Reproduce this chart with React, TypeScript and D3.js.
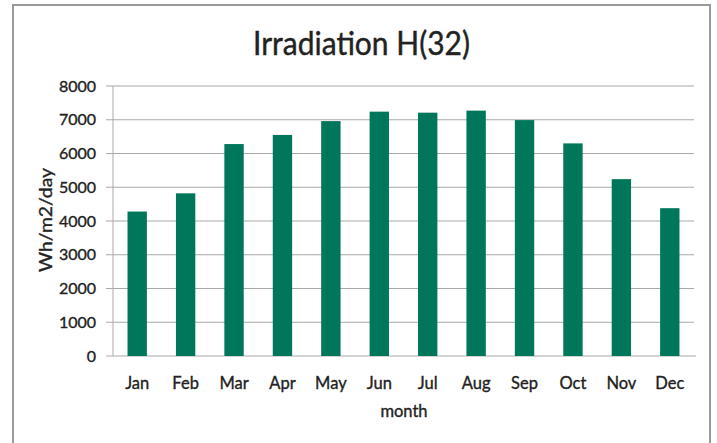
import React from "react";
import * as d3 from "d3";

const months = ["Jan", "Feb", "Mar", "Apr", "May", "Jun", "Jul", "Aug", "Sep", "Oct", "Nov", "Dec"];
const irradiation = [4280, 4820, 6280, 6550, 6960, 7240, 7210, 7270, 6990, 6300, 5240, 4380];
const yTicks = [0, 1000, 2000, 3000, 4000, 5000, 6000, 7000, 8000];
const title = "Irradiation H(32)";
const xTitle = "month";
const yTitle = "Wh/m2/day";

const W = 717;
const H = 443;
const plot = { left: 113, right: 694, top: 86, bottom: 356 };
const font = "Lato, 'Open Sans', sans-serif";
const textColor = "#222";
const barColor = "#00775a";
const gridColor = "#a9a9a9";

export default function App() {
  const x = d3
    .scaleBand<string>()
    .domain(months)
    .range([plot.left, plot.right])
    .paddingInner(0.6)
    .paddingOuter(0.3);
  const y = d3.scaleLinear().domain([0, 8000]).range([plot.bottom, plot.top]);

  const labelStroke = { stroke: textColor, strokeWidth: 0.35 };

  return (
    <svg
      width={W}
      height={H}
      style={{ position: "absolute", left: 0, top: 0, background: "#fff" }}
      fontFamily={font}
    >
      <rect x={0} y={0} width={W} height={H} fill="#fff" />
      <rect x={13} y={5} width={697} height={445} fill="none" stroke="#9a9a9a" strokeWidth={2} />
      <text
        x={361.5}
        y={55}
        textAnchor="middle"
        fontSize={32}
        fill={textColor}
        stroke={textColor}
        strokeWidth={0.4}
        textLength={217}
        lengthAdjust="spacingAndGlyphs"
      >
        {title}
      </text>
      {yTicks.map((t) => (
        <g key={t}>
          <line
            x1={plot.left - 7}
            x2={t === 0 ? plot.right + 2 : plot.right}
            y1={y(t)}
            y2={y(t)}
            stroke={gridColor}
            strokeWidth={1}
          />
          <text x={96} y={y(t)} dy="0.35em" textAnchor="end" fontSize={16} fill={textColor} {...labelStroke}>
            {t}
          </text>
        </g>
      ))}
      <line x1={plot.left} x2={plot.left} y1={plot.top} y2={plot.bottom} stroke={gridColor} strokeWidth={1} />
      {months.map((m, i) => (
        <rect
          key={m}
          x={x(m)}
          y={y(irradiation[i])}
          width={x.bandwidth()}
          height={y(0) - y(irradiation[i])}
          fill={barColor}
        />
      ))}
      {months.map((m) => (
        <text
          key={m}
          x={(x(m) as number) + x.bandwidth() / 2}
          y={383}
          dy="0.35em"
          textAnchor="middle"
          fontSize={16.5}
          fill={textColor}
          {...labelStroke}
        >
          {m}
        </text>
      ))}
      <text x={404} y={411} dy="0.35em" textAnchor="middle" fontSize={16.5} fill={textColor} {...labelStroke}>
        {xTitle}
      </text>
      <text
        transform={`translate(46,220) rotate(-90)`}
        dy="0.35em"
        textAnchor="middle"
        fontSize={16.5}
        fill={textColor}
        {...labelStroke}
        textLength={104}
        lengthAdjust="spacingAndGlyphs"
      >
        {yTitle}
      </text>
    </svg>
  );
}
